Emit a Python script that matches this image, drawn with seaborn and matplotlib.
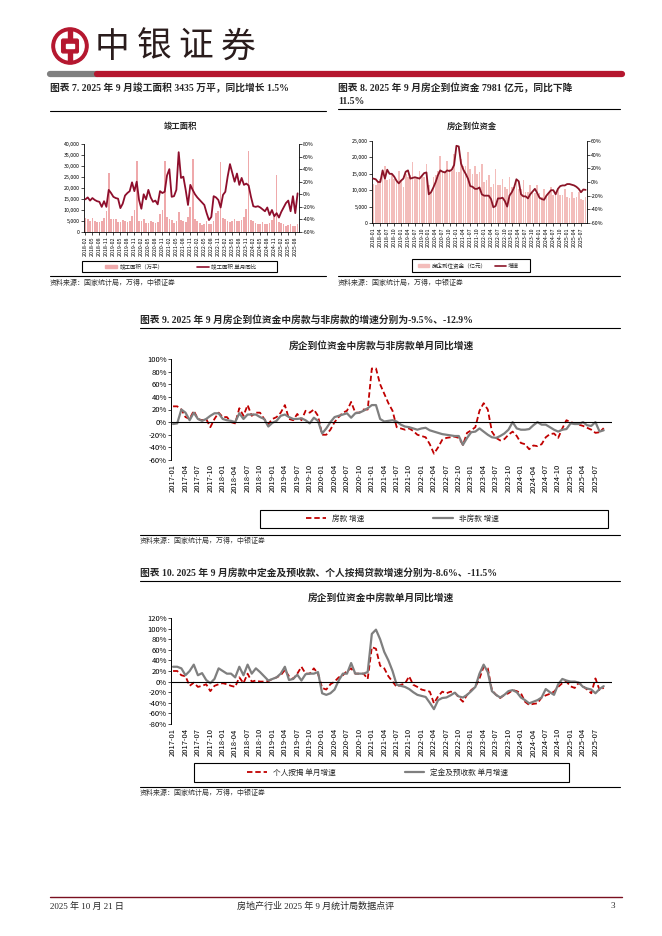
import numpy as np
import pandas as pd
import seaborn as sns
import matplotlib.pyplot as plt
from matplotlib.lines import Line2D
from matplotlib.patches import Rectangle, Circle, Patch, FancyBboxPatch
from matplotlib.ticker import FuncFormatter

sns.set_theme(style='white')
plt.rcParams['font.family'] = ['Noto Sans CJK SC', 'DejaVu Sans']
plt.rcParams['axes.unicode_minus'] = False

W, H = 662, 936
SERIF = ['Liberation Serif', 'Noto Sans CJK SC']
BRAND = '#B5172F'

# ---- chart 7: completed floor area (万平) and monthly yoy (%) , 2018-02 .. 2025-09
area_months = pd.date_range('2018-02', periods=92, freq='MS').strftime('%Y-%m').tolist()
area = [6500, 6000, 4800, 6500, 5000, 4500, 4600, 5200, 6300, 9500, 27000,
        6000, 6000, 5800, 4500, 4500, 5500, 4800, 4500, 5000, 7500, 9800, 32500,
        5000, 5000, 6000, 4200, 4300, 5000, 4500, 4200, 4500, 8000, 10000, 32500,
        7000, 6000, 5500, 4000, 4800, 9000, 5500, 5000, 4500, 7000, 11500, 33000,
        6000, 5000, 4000, 3000, 3500, 5000, 3800, 3500, 5000, 8500, 9500, 32000,
        6500, 6000, 5000, 4500, 5000, 6000, 4800, 5000, 5500, 7000, 10500, 37000,
        5500, 5000, 4000, 3500, 3800, 4500, 3700, 3500, 4000, 5500, 7000, 26000,
        4500, 4200, 3500, 2700, 3000, 3800, 2600, 2800, 3435]
area_yoy = [-8, -5, -10, -6, -9, -11, -12, -20, -11, -20, 7,
            2, -4, -6, -7, -22, -15, -2, 2, 5, 19, 5, 20,
            -9, -23, 0, -8, 7, -5, -12, -10, -16, 5, 2, 4,
            30, 40, -4, -3, 7, 67, 26, 28, 7, -17, 15, 7,
            0, -5, -9, -13, -17, -30, -41, -36, -3, -5, -9, -21,
            -1, 4, 28, 48, 34, 20, 33, 15, 26, 15, 17, 14,
            -4, -19, -20, -19, -21, -24, -27, -21, -33, -25, -35, -30,
            -37, -28, -21, -14, -10, -27, -3, -30, 1.5]

# ---- chart 8: funds in place (亿元) and yoy (%), 2018-01 .. 2025-09
fund_months = pd.date_range('2018-01', periods=93, freq='MS').strftime('%Y-%m').tolist()
funds = [12000, 11500, 12500, 13500, 15000, 17500, 13000, 13500, 15000, 13500, 13000, 16000,
         13000, 11000, 15000, 14000, 14500, 18500, 14000, 14000, 16000, 14500, 14000, 18000,
         11500, 9000, 14000, 14500, 16000, 20500, 16000, 16000, 19000, 16500, 16000, 21000,
         15500, 15500, 19500, 17500, 17500, 21500, 16500, 15000, 17500, 15000, 15500, 18000,
         12500, 13000, 14500, 11000, 12000, 16500, 11500, 11500, 13500, 11000, 10500, 14000,
         11000, 11000, 13000, 10500, 10500, 13000, 9500, 9500, 11500, 9000, 9000, 11500,
         9000, 8000, 10500, 8500, 9000, 11000, 8500, 8500, 10500, 8500, 8500, 10500,
         8000, 7500, 9500, 7500, 7800, 9500, 7200, 7000, 7981]
funds_yoy = [5, 4, 0, 0, 17, 5, 18, 12, 12, 8, 2, -2,
             2, 5, 15, 17, 5, 6, 7, 6, 5, 9, 13, 14,
             -18, -15, -8, 0, 10, 17, 15, 14, 17, 16, 18, 25,
             53, 52, 27, 18, 12, 5, -6, -7, -10, -10, -8, -18,
             -20, -20, -20, -25, -37, -35, -24, -24, -23, -28, -36, -20,
             -15, -8, 4, 1, -18, -21, -21, -24, -18, -14, -10, -16,
             -23, -25, -26, -20, -16, -12, -12, -18, -10, -6, -5, -5,
             -3, -3, -4, -5, -7, -10, -15, -11, -11.5]

# ---- chart 9 / 10: monthly yoy (%), 2017-01 .. 2025-09
yoy_months = pd.date_range('2017-01', periods=105, freq='MS').strftime('%Y-%m').tolist()
house_pay = [25, 25, 20, 8, 5, 18, 5, 3, 5, -8, 5, 15,
             8, 8, 0, -2, 22, 10, 27, 10, 15, 15, 5, -3,
             5, 8, 15, 27, 5, 3, 13, 3, 18, 15, 20, 10,
             -20, -20, -12, 0, 8, 15, 18, 32, 15, 15, 20, 20,
             85, 85, 60, 45, 30, 18, -8, -10, -12, -10, -14, -20,
             -22, -24, -35, -50, -40, -28, -25, -24, -23, -25, -36, -17,
             -13, -8, 18, 30, 20, -15, -25, -29, -27, -20, -15, -22,
             -33, -35, -43, -37, -38, -35, -24, -19, -18, -25, -10, 3,
             0, -2, -4, -6, -9, -12, -17, -16, -9.5]
non_house = [-3, -2, 20, 15, 3, 15, 5, 2, 5, 10, 14, 14,
             5, 3, 2, 0, 14, 5, 12, 12, 12, 8, 5, -7,
             -1, 2, 10, 12, 8, 5, 5, 6, 3, -2, 7, 2,
             -18, -10, 0, 8, 10, 12, 14, 7, 14, 15, 18, 22,
             27, 27, 5, 1, 2, 3, 1, -4, -7, -8, -10, -12,
             -10, -9, -13, -15, -17, -19, -20, -21, -22, -22, -36, -25,
             -16, -15, -10, -15, -20, -24, -25, -22, -18, -12, 0, -10,
             -12, -12, -11, -5, 0, -4, -4, -8, -12, -15, -12, -11,
             -2, -3, -3, 0, -5, -6, 0, -15, -12.9]
mortgage = [20, 20, 12, 10, -8, -2, -10, -8, -5, -18, -8, -5,
            -3, -5, -8, -10, 8, -3, 15, 0, 2, 0, 0, 1,
            5, 8, 12, 22, 10, 5, 15, 28, 15, 15, 25, 15,
            -12, -15, -5, 0, 8, 12, 20, 25, 15, 15, 15, 5,
            65, 62, 30, 25, 10, 0, -10, -6, -4, 10, -6, -10,
            -15, -17, -19, -41, -28, -19, -22, -19, -20, -30, -38, -25,
            -16, -10, 6, 28, 25, -16, -25, -31, -25, -22, -16, -18,
            -22, -38, -44, -42, -41, -30, -26, -23, -19, -10, -3, 0,
            -9, -12, -2, -9, -15, -22, 6, -16, -11.5]
deposit = [28, 28, 25, 12, 20, 32, 12, 16, 3, -3, 5, 25,
           20, 15, 15, 8, 28, 12, 32, 15, 25, 18, 10, 2,
           5, 8, 15, 28, 3, 5, 13, 2, 14, 15, 15, 18,
           -22, -25, -22, -15, 2, 15, 15, 35, 15, 15, 15, 18,
           90, 98, 80, 56, 40, 20, -6, -8, -10, -14, -20, -25,
           -27, -29, -40, -52, -35, -31, -30, -26, -21, -28, -30, -25,
           -18, -10, 15, 32, 18, -18, -25, -30, -25, -18, -16, -20,
           -30, -35, -41, -38, -35, -30, -14, -20, -25, -5, 5, 2,
           0, 0, -2, -10, -13, -15, -22, -14, -8.6]


fig = plt.figure(figsize=(W / 100, H / 100), dpi=100)


def rect(x0, y0, x1, y1):
    return [x0 / W, 1 - y1 / H, (x1 - x0) / W, (y1 - y0) / H]


def ftext(x, y, s, **kw):
    kw.setdefault('va', 'center')
    fig.text(x / W, 1 - y / H, s, **kw)


def hline(y, x0, x1, color='black', lw=0.8):
    fig.add_artist(Line2D([x0 / W, x1 / W], [1 - y / H, 1 - y / H],
                          transform=fig.transFigure, color=color, lw=lw))


def box(x0, y0, x1, y1):
    fig.add_artist(Rectangle((x0 / W, 1 - y1 / H), (x1 - x0) / W, (y1 - y0) / H,
                             transform=fig.transFigure, fill=False, ec='black', lw=0.8))


def style_ticks(ax, size):
    ax.tick_params(axis='both', labelsize=size, length=2, width=0.5, pad=1,
                   color='black', labelcolor='black')


# header: logo + name + bar
lax = fig.add_axes(rect(51, 27, 89, 65))
lax.set_xlim(-1.05, 1.05)
lax.set_ylim(-1.05, 1.05)
lax.set_aspect('equal')
lax.axis('off')
lax.add_patch(Circle((0, 0), 1, color=BRAND))
lax.add_patch(Circle((0, 0), 0.78, color='white'))
lax.add_patch(Rectangle((-0.12, -0.95), 0.24, 1.9, color=BRAND))
lax.add_patch(FancyBboxPatch((-0.38, -0.3), 0.76, 0.6, boxstyle='round,pad=0.08', color=BRAND))
lax.add_patch(Rectangle((-0.2, -0.13), 0.4, 0.26, color='white'))
for ch, cx in zip('中银证券', [112, 154, 196, 238]):
    ftext(cx, 47, ch, ha='center', fontsize=25, color='#2a1c1c')
hline(73.5, 50, 97, color='#7f7f7f', lw=4.5)
hline(73.5, 97, 622, color=BRAND, lw=4.5)

# section titles
ftext(50, 88, '图表 7. 2025 年 9 月竣工面积 3435 万平，同比增长 1.5%',
      family=SERIF, fontsize=7, weight='bold')
ftext(338, 88, '图表 8. 2025 年 9 月房企到位资金 7981 亿元，同比下降',
      family=SERIF, fontsize=7, weight='bold')
ftext(338, 101, '11.5%', family=SERIF, fontsize=7, weight='bold')
hline(111, 50, 326)
hline(109, 338, 620)

SRC = '资料来源：国家统计局，万得，中银证券'


def combo(pos, months, bars, yoy, bar_color, line_color, ymax, ystep, rlim, title, tcx,
          labels, leg_x, leg_y, colsp, hlen):
    ax = fig.add_axes(rect(*pos))
    x = np.arange(len(bars))
    sns.barplot(x=x, y=bars, color=bar_color, saturation=1, width=0.72,
                errorbar=None, linewidth=0, edgecolor='none', ax=ax)
    ax.set_ylim(0, ymax)
    ax.set_yticks(np.arange(0, ymax + 1, ystep))
    ax.yaxis.set_major_formatter(FuncFormatter(lambda v, p: f'{v:,.0f}'))
    ax.set_xticks(x[::3])
    ax.set_xticklabels(months[::3], rotation=90)
    ax2 = ax.twinx()
    sns.lineplot(x=x, y=yoy, color=line_color, lw=1.3, ax=ax2)
    ax2.set_ylim(*rlim)
    ax2.set_yticks(np.arange(rlim[0], rlim[1] + 1, 20))
    ax2.yaxis.set_major_formatter(FuncFormatter(lambda v, p: f'{v:.0f}%'))
    ax.set_xlim(-0.6, len(bars) - 0.4)
    for a in (ax, ax2):
        for s in a.spines.values():
            s.set_visible(False)
        a.set_ylabel('')
        style_ticks(a, 3.8)
    ax.spines['left'].set_visible(True)
    ax.spines['bottom'].set_visible(True)
    ax2.spines['right'].set_visible(True)
    for s in (ax.spines['left'], ax.spines['bottom'], ax2.spines['right']):
        s.set_color('black')
        s.set_linewidth(0.6)
    ax.tick_params(left=True, bottom=True)
    ax2.tick_params(right=True)
    ftext(tcx, 126, title, ha='center', fontsize=6, weight='bold')
    handles = [Patch(color=bar_color), Line2D([], [], color=line_color, lw=1.2)]
    ax.legend(handles, labels, loc='center left', bbox_to_anchor=(leg_x / W, 1 - leg_y / H),
              bbox_transform=fig.transFigure, ncol=2, frameon=False, fontsize=4,
              handlelength=hlen, handleheight=0.6, columnspacing=colsp, borderaxespad=0,
              handletextpad=0.4)


combo((84, 144, 299, 232), area_months, area, area_yoy, '#EFA9AB', '#8E0E2C',
      40000, 5000, (-60, 80), '竣工面积', 180,
      ['竣工面积（万平）', '竣工面积 单月同比'], 103, 266.5, 6, 2.2)
box(82, 261, 277, 272)
combo((372, 141, 587, 223), fund_months, funds, funds_yoy, '#F3BDBB', '#8B1427',
      25000, 5000, (-60, 60), '房企到位资金', 472,
      ['房企到位资金（亿元）', '增速'], 416, 265.5, 1.5, 2.0)
box(412, 259, 530, 272)
for x0, x1 in ((50, 326), (338, 620)):
    hline(276, x0, x1)
ftext(50, 283, SRC, fontsize=5, color='#333333')
ftext(338, 283, SRC, fontsize=5, color='#333333')


def yoy_chart(pos, a, b, lo, hi, title, ty, labels, leg_x, leg_y):
    ax = fig.add_axes(rect(*pos))
    x = np.arange(len(a))
    sns.lineplot(x=x, y=a, color='#C00000', lw=1.3, linestyle=(0, (3, 1.6)), ax=ax)
    sns.lineplot(x=x, y=b, color='#7F7F7F', lw=1.6, ax=ax)
    ax.axhline(0, color='black', lw=0.8)
    ax.set_ylim(lo, hi)
    ax.set_yticks(np.arange(lo, hi + 1, 20))
    ax.yaxis.set_major_formatter(FuncFormatter(lambda v, p: f'{v:.0f}%'))
    ax.set_xticks(x[::3])
    ax.set_xticklabels(yoy_months[::3], rotation=90)
    ax.set_xlim(-0.5, len(a) + 1)
    for s in ax.spines.values():
        s.set_visible(False)
    ax.spines['left'].set_visible(True)
    ax.spines['left'].set_color('black')
    ax.spines['left'].set_linewidth(0.7)
    style_ticks(ax, 5.5)
    ax.tick_params(left=True, bottom=False)
    ftext(381, ty, title, ha='center', fontsize=7, weight='bold')
    handles = [Line2D([], [], color='#C00000', lw=1.3, linestyle=(0, (3, 1.6))),
               Line2D([], [], color='#7F7F7F', lw=1.6)]
    ax.legend(handles, labels, loc='center left', bbox_to_anchor=(leg_x / W, 1 - leg_y / H),
              bbox_transform=fig.transFigure, ncol=2, frameon=False, fontsize=5.5,
              handlelength=2.6, columnspacing=9, borderaxespad=0)


ftext(140, 320, '图表 9. 2025 年 9 月房企到位资金中房款与非房款的增速分别为-9.5%、-12.9%',
      family=SERIF, fontsize=7, weight='bold')
hline(328, 140, 620)
yoy_chart((171, 359, 612, 460), house_pay, non_house, -60, 100,
          '房企到位资金中房款与非房款单月同比增速', 346, ['房款 增速', '非房款 增速'], 303, 519)
box(260, 510, 608, 528)
hline(535, 140, 620)
ftext(140, 541, SRC, fontsize=5, color='#333333')

ftext(140, 573, '图表 10. 2025 年 9 月房款中定金及预收款、个人按揭贷款增速分别为-8.6%、-11.5%',
      family=SERIF, fontsize=7, weight='bold')
hline(581, 140, 620)
yoy_chart((171, 618, 612, 724), mortgage, deposit, -80, 120,
          '房企到位资金中房款单月同比增速', 598, ['个人按揭 单月增速', '定金及预收款 单月增速'], 244, 772.5)
box(194, 763, 569, 782)
hline(787, 140, 620)
ftext(140, 793, SRC, fontsize=5, color='#333333')

# footer
hline(897, 50, 622, color='#7A1020', lw=1)
ftext(50, 906, '2025 年 10 月 21 日', family=SERIF, fontsize=6.5)
ftext(237, 906, '房地产行业 2025 年 9 月统计局数据点评', family=SERIF, fontsize=6.5)
ftext(615, 906, '3', family=SERIF, fontsize=6.5, ha='right')

fig.savefig('out.png', dpi=100)
